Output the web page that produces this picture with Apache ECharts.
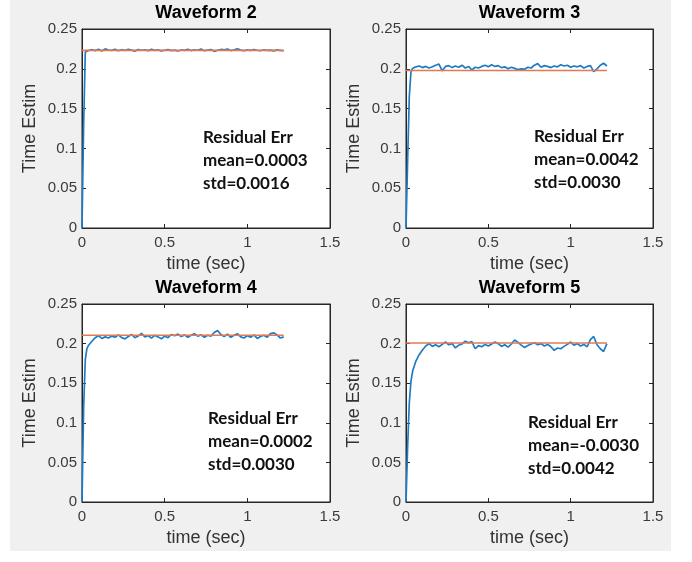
<!DOCTYPE html>
<html>
<head>
<meta charset="utf-8">
<script src="https://cdn.jsdelivr.net/npm/echarts@6/dist/echarts.min.js"></script>
<style>html,body{margin:0;padding:0;background:#fff;}#c{width:692px;height:562px;}</style>
</head>
<body>
<div id="c"></div>
<script>
// ---- data ----
var titles = ['Waveform 2', 'Waveform 3', 'Waveform 4', 'Waveform 5'];
var xTicks = [0, 0.5, 1, 1.5];
var yTicks = [0, 0.05, 0.1, 0.15, 0.2, 0.25];
var timeSec = [0,0.01,0.02,0.03,0.04,0.06,0.08,0.10,0.12,0.14,0.16,0.18,0.20,0.22,0.24,0.26,0.28,0.30,0.32,0.34,0.36,0.38,0.40,0.42,0.44,0.46,0.48,0.50,0.52,0.54,0.56,0.58,0.60,0.62,0.64,0.66,0.68,0.70,0.72,0.74,0.76,0.78,0.80,0.82,0.84,0.86,0.88,0.90,0.92,0.94,0.96,0.98,1.00,1.02,1.04,1.06,1.08,1.10,1.12,1.14,1.16,1.18,1.20,1.22];
var estW2 = [0,0.130,0.221,0.2235,0.2230,
  0.2240,0.2228,0.2246,0.2224,0.2250,0.2236,0.2232,0.2244,0.2226,0.2240,
  0.2230,0.2246,0.2235,0.2222,0.2242,0.2233,0.2238,0.2228,0.2245,0.2231,
  0.2237,0.2225,0.2233,0.2241,0.2229,0.2235,0.2223,0.2237,0.2232,0.2245,
  0.2229,0.2239,0.2233,0.2247,0.2227,0.2235,0.2241,0.2219,0.2233,0.2243,
  0.2237,0.2249,0.2229,0.2239,0.2251,0.2235,0.2227,0.2237,0.2231,0.2240,
  0.2233,0.2227,0.2239,0.2232,0.2235,0.2225,0.2237,0.2231,0.2227];
var estW3 = [0,0.085,0.165,0.196,0.2005,
  0.2025,0.2035,0.2015,0.2030,0.2010,0.2025,0.2045,0.2060,0.1975,0.2030,
  0.2040,0.2015,0.2035,0.2020,0.2045,0.2010,0.2030,0.1985,0.2020,0.2010,
  0.2030,0.2045,0.2025,0.2050,0.2030,0.2040,0.2015,0.2025,0.2000,0.2020,
  0.2005,0.1990,0.2000,0.1995,0.2020,0.2010,0.2045,0.2065,0.2020,0.2040,
  0.2030,0.2015,0.2035,0.2025,0.2050,0.2035,0.2045,0.2020,0.2035,0.2025,
  0.2040,0.2010,0.2030,0.2040,0.1965,0.2000,0.2045,0.2070,0.2035];
var estW4 = [0,0.120,0.180,0.194,0.198,
  0.2030,0.2075,0.2100,0.2065,0.2085,0.2070,0.2095,0.2080,0.2110,0.2075,
  0.2060,0.2090,0.2115,0.2075,0.2095,0.2130,0.2085,0.2100,0.2070,0.2105,
  0.2085,0.2060,0.2095,0.2075,0.2115,0.2100,0.2120,0.2090,0.2110,0.2080,
  0.2105,0.2125,0.2095,0.2110,0.2080,0.2105,0.2095,0.2140,0.2165,0.2115,
  0.2090,0.2120,0.2080,0.2105,0.2125,0.2085,0.2070,0.2100,0.2080,0.2110,
  0.2065,0.2090,0.2105,0.2080,0.2125,0.2135,0.2110,0.2070,0.2085];
var estW5 = [0,0.070,0.125,0.152,0.165,
  0.178,0.186,0.192,0.197,0.2000,0.1965,0.1985,0.1960,0.1990,0.2020,
  0.1985,0.2000,0.1945,0.1980,0.1995,0.2030,0.2010,0.2025,0.1935,0.1975,
  0.1960,0.1990,0.1970,0.1995,0.2020,0.2000,0.1965,0.1985,0.1955,0.1995,
  0.2045,0.2015,0.1980,0.1950,0.1975,0.1995,0.2010,0.1985,0.2000,0.1970,
  0.1990,0.1960,0.1915,0.1945,0.1935,0.1965,0.1990,0.2020,0.1980,0.2000,
  0.1970,0.1990,0.1960,0.2050,0.2090,0.1985,0.1935,0.1900,0.2000];
var estimates = [estW2, estW3, estW4, estW5];
var trueValues = [0.2232, 0.1978, 0.2105, 0.2008];
var trueSpan = [0, 1.22];
var residualTexts = [
  ['Residual Err', 'mean=0.0003', 'std=0.0016'],
  ['Residual Err', 'mean=0.0042', 'std=0.0030'],
  ['Residual Err', 'mean=0.0002', 'std=0.0030'],
  ['Residual Err', 'mean=-0.0030', 'std=0.0042']
];

// ---- layout / style ----
var grids = [
  {left: 82, top: 29, width: 248, height: 199},
  {left: 406, top: 29, width: 247, height: 199},
  {left: 82, top: 304, width: 248, height: 198},
  {left: 406, top: 304, width: 247, height: 198}
];
var annotPos = [[203, 126], [534, 125], [208, 407], [528, 411]];
var AX = '#262626';
var FONT = '"Liberation Sans", Arial, sans-serif';

var chart = echarts.init(document.getElementById('c'), null, {renderer: 'canvas'});
var option = {
  backgroundColor: '#ffffff',
  animation: false,
  title: [], grid: [], xAxis: [], yAxis: [], series: [],
  graphic: [{type: 'rect', z: -100, shape: {x: 10, y: 0, width: 661, height: 551}, style: {fill: '#f0f0f0'}}]
};
function tick() { return {show: true, inside: true, length: 4, lineStyle: {color: AX, width: 1}}; }
grids.forEach(function (g, i) {
  option.grid.push({left: g.left, top: g.top, width: g.width, height: g.height, show: true, backgroundColor: '#ffffff', borderColor: AX, borderWidth: 1, containLabel: false});
  option.title.push({text: titles[i], left: g.left + g.width / 2, top: g.top - 25, textAlign: 'center', padding: 0,
    textStyle: {fontFamily: FONT, fontSize: 18, fontWeight: 'bold', color: '#000'}});
  option.xAxis.push({gridIndex: i, type: 'value', min: xTicks[0], max: xTicks[xTicks.length - 1], interval: 0.5, position: 'bottom',
    splitLine: {show: false}, axisLine: {show: true, onZero: false, lineStyle: {color: AX}}, axisTick: tick(),
    name: 'time (sec)', nameLocation: 'middle', nameGap: 27,
    nameTextStyle: {fontFamily: FONT, fontSize: 18, color: '#333'},
    axisLabel: {show: true, inside: false, margin: 7, fontFamily: FONT, fontSize: 15, color: '#3a3a3a'}});
  option.xAxis.push({gridIndex: i, type: 'value', min: xTicks[0], max: xTicks[xTicks.length - 1], interval: 0.5, position: 'top',
    splitLine: {show: false}, axisLine: {show: true, onZero: false, lineStyle: {color: AX}}, axisTick: tick(), axisLabel: {show: false}});
  option.yAxis.push({gridIndex: i, type: 'value', min: yTicks[0], max: yTicks[yTicks.length - 1], interval: 0.05, position: 'left',
    splitLine: {show: false}, axisLine: {show: true, onZero: false, lineStyle: {color: AX}}, axisTick: tick(),
    name: 'Time Estim', nameLocation: 'middle', nameGap: 43,
    nameTextStyle: {fontFamily: FONT, fontSize: 18, color: '#333'},
    axisLabel: {show: true, inside: false, margin: 5, fontFamily: FONT, fontSize: 15, color: '#3a3a3a'}});
  option.yAxis.push({gridIndex: i, type: 'value', min: yTicks[0], max: yTicks[yTicks.length - 1], interval: 0.05, position: 'right',
    splitLine: {show: false}, axisLine: {show: true, onZero: false, lineStyle: {color: AX}}, axisTick: tick(), axisLabel: {show: false}});

  var est = estimates[i];
  option.series.push({type: 'line', xAxisIndex: 2 * i, yAxisIndex: 2 * i, showSymbol: false, symbol: 'none',
    data: timeSec.map(function (t, k) { return [t, est[k]]; }),
    lineStyle: {color: '#1f7cc4', width: 1.7}, z: 2});
  option.series.push({type: 'line', xAxisIndex: 2 * i, yAxisIndex: 2 * i, showSymbol: false, symbol: 'none',
    data: trueSpan.map(function (t) { return [t, trueValues[i]]; }),
    lineStyle: {color: '#e07a55', width: 1.6}, z: 3});

  option.graphic.push({type: 'text', x: annotPos[i][0], y: annotPos[i][1], z: 10,
    style: {text: residualTexts[i].join('\n'), font: 'bold 17px Lato, "Open Sans", sans-serif', lineHeight: 23,
      fill: '#111', verticalAlign: 'top', align: 'left'}});
});
chart.setOption(option);
</script>
</body>
</html>
